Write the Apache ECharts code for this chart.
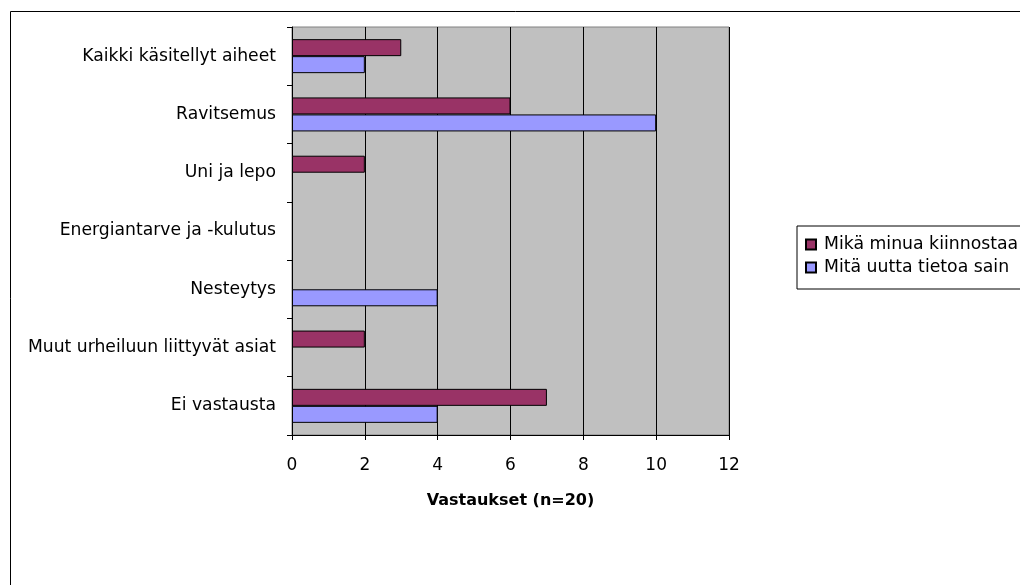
<!DOCTYPE html>
<html>
<head>
<meta charset="utf-8">
<script src="https://cdn.jsdelivr.net/npm/echarts@6/dist/echarts.min.js"></script>
<style>
  html, body { margin: 0; padding: 0; background: #ffffff; }
  #chart { width: 1020px; height: 585px; }
</style>
</head>
<body>
<div id="chart"></div>
<script>
// Survey topics (listed top to bottom)
const categories = [
  'Kaikki käsitellyt aiheet',
  'Ravitsemus',
  'Uni ja lepo',
  'Energiantarve ja -kulutus',
  'Nesteytys',
  'Muut urheiluun liittyvät asiat',
  'Ei vastausta'
];
const seriesNames = ['Mikä minua kiinnostaa', 'Mitä uutta tietoa sain'];
const interestValues = [3, 6, 2, 0, 0, 2, 7];
const newInfoValues = [2, 10, 0, 0, 4, 0, 4];
const axisTitle = 'Vastaukset (n=20)';

const FONT = '"DejaVu Sans", "Liberation Sans", Arial, sans-serif';

// Zero-length bars get no outline so they leave no stray stroke on the axis
function barData(values) {
  return values.map(v => v === 0 ? { value: 0, itemStyle: { borderWidth: 0 } } : v);
}

const chart = echarts.init(document.getElementById('chart'), null, { renderer: 'canvas' });

chart.setOption({
  backgroundColor: '#ffffff',
  animation: false,
  textStyle: { fontFamily: FONT, color: '#000' },
  graphic: [{
    type: 'rect',
    silent: true,
    shape: { x: 10.5, y: 11.5, width: 1100, height: 700 },
    style: { fill: 'none', stroke: '#000', lineWidth: 1 }
  }],
  grid: {
    left: 292, top: 27, width: 437, height: 408,
    show: true,
    backgroundColor: '#C0C0C0',
    borderColor: '#808080',
    borderWidth: 1,
    containLabel: false
  },
  legend: {
    orient: 'vertical',
    left: 797, top: 226,
    padding: [10, 60, 13, 8],
    itemGap: 6,
    itemWidth: 10, itemHeight: 10,
    icon: 'rect',
    backgroundColor: '#ffffff',
    borderColor: '#000',
    borderWidth: 1,
    textStyle: { fontFamily: FONT, fontSize: 17.3, lineHeight: 17, color: '#000', padding: [0, 0, 0, 3] },
    data: seriesNames
  },
  xAxis: {
    type: 'value',
    min: 0, max: 12, interval: 2,
    name: axisTitle,
    nameLocation: 'middle',
    nameGap: 58,
    nameTextStyle: { fontFamily: FONT, fontSize: 16, fontWeight: 'bold', color: '#000' },
    axisLine: { show: true, lineStyle: { color: '#000', width: 1 } },
    axisTick: { show: true, length: 5, lineStyle: { color: '#000' } },
    axisLabel: { fontFamily: FONT, fontSize: 17, color: '#000', margin: 22 },
    splitLine: { show: true, lineStyle: { color: '#000', width: 1 } }
  },
  yAxis: {
    type: 'category',
    inverse: true,
    data: categories,
    axisLine: { show: true, lineStyle: { color: '#000', width: 1 } },
    axisTick: { show: true, length: 5, lineStyle: { color: '#000' } },
    axisLabel: { fontFamily: FONT, fontSize: 17.2, color: '#000', margin: 16 },
    splitLine: { show: false }
  },
  series: [
    {
      name: seriesNames[0],
      type: 'bar',
      data: barData(interestValues),
      barWidth: 17,
      barGap: '0%',
      itemStyle: { color: '#993366', borderColor: '#000', borderWidth: 1 }
    },
    {
      name: seriesNames[1],
      type: 'bar',
      data: barData(newInfoValues),
      barWidth: 17,
      barGap: '0%',
      itemStyle: { color: '#9999FF', borderColor: '#000', borderWidth: 1 }
    }
  ]
});
</script>
</body>
</html>
